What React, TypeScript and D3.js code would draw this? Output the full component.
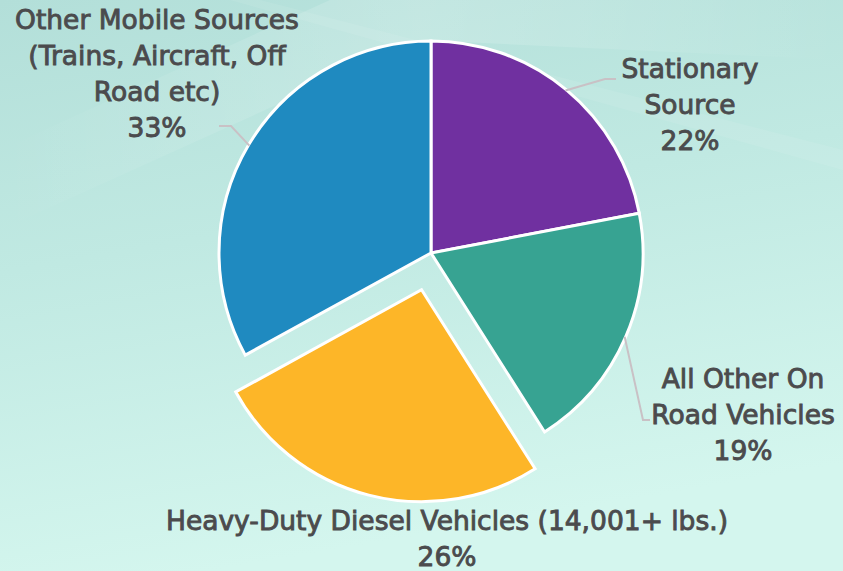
import React from 'react';
import * as d3 from 'd3';

// slice data, clockwise from 12 o'clock
const categories = [
  'Stationary Source',
  'All Other On Road Vehicles',
  'Heavy-Duty Diesel Vehicles (14,001+ lbs.)',
  'Other Mobile Sources (Trains, Aircraft, Off Road etc)',
];
const shares = [22, 19, 26, 33];
const sliceColors = ['#7030A0', '#37A392', '#FDB628', '#1F8AC0'];
const labelLines = [
  ['Stationary', 'Source'],
  ['All Other On', 'Road Vehicles'],
  ['Heavy-Duty Diesel Vehicles (14,001+ lbs.)'],
  ['Other Mobile Sources', '(Trains, Aircraft, Off', 'Road etc)'],
];
const explodedIndex = 2;

// label placement (manual, like the original slide)
const labelLayout = [
  { x: 690, y: 78, elbow: [605, 79], end: [616, 79] },
  { x: 743, y: 388, elbow: [643, 420], end: [650, 420] },
  { x: 447, y: 530, elbow: null, end: null },
  { x: 157, y: 29, elbow: [231, 126], end: [219, 126] },
];

const W = 843;
const H = 571;
const cx = 431;
const cy = 253;
const R = 212;
const explode = 38;
const lineH = 36;

export default function App() {
  const pie = d3.pie<number>().sort(null).value(d => d);
  const arcs = pie(shares);
  const arc = d3.arc<d3.PieArcDatum<number>>().innerRadius(0).outerRadius(R);

  return (
    <div style={{ position: 'absolute', left: 0, top: 0 }}>
      <svg width={W} height={H} style={{ display: 'block' }}>
        <defs>
          <linearGradient id="bg" x1="0" y1="0" x2="0.25" y2="1">
            <stop offset="0" stopColor="#b3dfd9" />
            <stop offset="0.45" stopColor="#c0e9e2" />
            <stop offset="1" stopColor="#d4f6ee" />
          </linearGradient>
          <linearGradient id="sheen" x1="0" y1="0" x2="1" y2="0">
            <stop offset="0" stopColor="#ffffff" stopOpacity="0" />
            <stop offset="0.5" stopColor="#ffffff" stopOpacity="0.18" />
            <stop offset="1" stopColor="#ffffff" stopOpacity="0" />
          </linearGradient>
        </defs>
        <rect width={W} height={H} fill="url(#bg)" />
        <path d="M0,150 L330,0 L843,0 L843,60 L420,40 L0,230 Z" fill="url(#sheen)" />
        <path d="M260,0 L843,150 L843,170 L230,0 Z" fill="#ffffff" opacity={0.08} />

        <g transform={`translate(${cx},${cy})`}>
          {arcs.map((a, i) => {
            const mid = (a.startAngle + a.endAngle) / 2;
            const off = i === explodedIndex ? explode : 0;
            const dx = Math.sin(mid) * off;
            const dy = -Math.cos(mid) * off;
            return (
              <path
                key={categories[i]}
                d={arc(a) || ''}
                transform={`translate(${dx},${dy})`}
                fill={sliceColors[i]}
                stroke="#ffffff"
                strokeWidth={3}
                strokeLinejoin="miter"
              />
            );
          })}
        </g>

        {arcs.map((a, i) => {
          const lay = labelLayout[i];
          if (!lay.elbow || !lay.end) return null;
          const mid = (a.startAngle + a.endAngle) / 2;
          const sx = cx + Math.sin(mid) * (R - 1);
          const sy = cy - Math.cos(mid) * (R - 1);
          return (
            <polyline
              key={'lead' + i}
              points={`${sx},${sy} ${lay.elbow[0]},${lay.elbow[1]} ${lay.end[0]},${lay.end[1]}`}
              fill="none"
              stroke="#c9c1c5"
              strokeWidth={2}
            />
          );
        })}

        {shares.map((v, i) => {
          const lay = labelLayout[i];
          const lines = [...labelLines[i], `${v}%`];
          return (
            <text
              key={'lbl' + i}
              textAnchor="middle"
              fill="#4b4b4d"
              stroke="#4b4b4d"
              strokeWidth={0.9}
              fontFamily="'DejaVu Sans', sans-serif"
              fontSize={26.5}
            >
              {lines.map((t, j) => (
                <tspan key={j} x={lay.x} y={lay.y + j * lineH}>
                  {t}
                </tspan>
              ))}
            </text>
          );
        })}
      </svg>
    </div>
  );
}
